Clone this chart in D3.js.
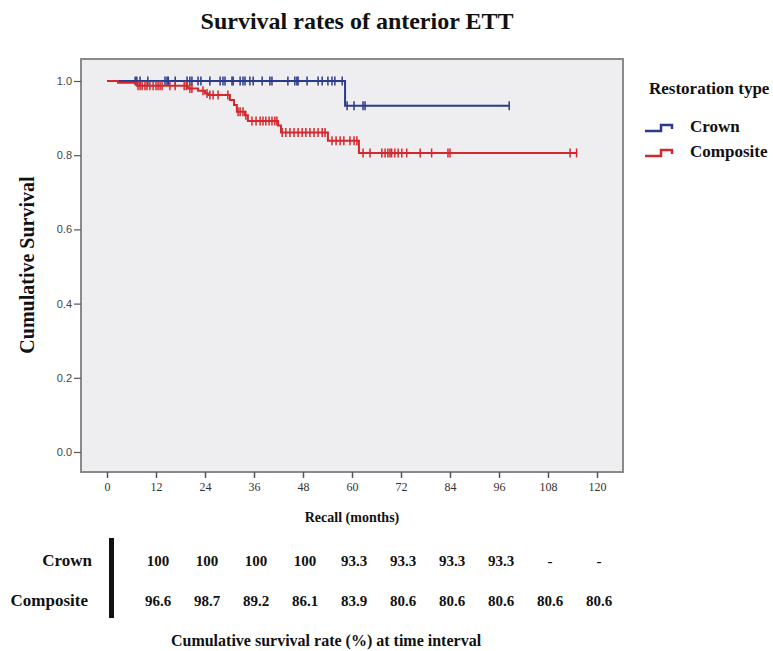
<!DOCTYPE html>
<html>
<head>
<meta charset="utf-8">
<script src="https://cdn.jsdelivr.net/npm/d3@7"></script>
<style>
  body { margin: 0; background: #fff; }
  svg { display: block; }
  .serif { font-family: "Liberation Serif", "DejaVu Serif", serif; font-weight: bold; fill: #111; }
</style>
</head>
<body>
<svg id="chart" width="773" height="651"></svg>
<script>
// Kaplan-Meier steps: [month, survival after event]
const crownSteps = [[0, 1.0], [58.3, 0.933]];
const crownEnd = 98.5;
const crownCensored = [6.9, 7.3, 8.1, 10.0, 14.2, 14.7, 15.0, 16.7, 19.6, 20.3, 20.8, 22.3, 23.0,
  25.2, 27.7, 28.4, 28.9, 30.6, 30.9, 32.6, 33.3, 33.8, 35.0, 35.8, 38.0, 39.9, 40.4, 44.3, 46.0,
  46.5, 46.8, 49.0, 51.7, 52.7, 54.1, 55.1, 55.8, 57.6, 58.8, 60.5, 62.7, 63.2, 98.5];

const compositeSteps = [[0, 1.0], [2.7, 0.995], [7.3, 0.987], [19.8, 0.980], [22.3, 0.974],
  [24.0, 0.966], [24.8, 0.962], [30.1, 0.949], [31.1, 0.935], [31.8, 0.917], [33.8, 0.908],
  [34.5, 0.892], [41.9, 0.880], [42.6, 0.861], [54.1, 0.839], [61.7, 0.806]];
const compositeEnd = 115;
const compositeCensored = [7.6, 8.1, 8.6, 9.3, 9.8, 10.5, 11.3, 12.0, 12.5, 13.0, 13.5, 15.4, 16.7,
  18.9, 19.4, 20.3, 20.8, 23.5, 24.5, 25.2, 26.0, 27.2, 29.6, 32.1, 32.6, 33.3, 34.0, 35.5, 36.5,
  37.5, 38.2, 38.9, 39.7, 40.4, 41.1, 41.6, 42.9, 43.8, 44.8, 45.8, 46.8, 47.8, 48.7, 49.7, 50.7,
  51.7, 52.7, 53.4, 55.1, 56.1, 57.1, 58.0, 59.5, 60.5, 61.2, 62.7, 64.4, 67.3, 68.1, 68.8, 69.3,
  69.7, 70.5, 71.3, 72.2, 73.4, 76.7, 79.5, 83.5, 84.0, 113.4, 115.0];

const xTicks = [0, 12, 24, 36, 48, 60, 72, 84, 96, 108, 120];
const yTicks = [0, 0.2, 0.4, 0.6, 0.8, 1.0];

// table below the chart (values at 12-month intervals)
const tableMonths = [12, 24, 36, 48, 60, 72, 84, 96, 108, 120];
const crownRates = ["100", "100", "100", "100", "93.3", "93.3", "93.3", "93.3", "-", "-"];
const compositeRates = ["96.6", "98.7", "89.2", "86.1", "83.9", "80.6", "80.6", "80.6", "80.6", "80.6"];

const series = [
  { name: "Crown", color: "#2b3a8a", steps: crownSteps, end: crownEnd, censored: crownCensored, rates: crownRates },
  { name: "Composite", color: "#d4282e", steps: compositeSteps, end: compositeEnd, censored: compositeCensored, rates: compositeRates }
];

const svg = d3.select("#chart");

// plot frame
const frame = { left: 81, right: 623, top: 59, bottom: 472 };
const x = d3.scaleLinear().domain([0, 120]).range([107, 597]);
const y = d3.scaleLinear().domain([0, 1]).range([452, 81]);

svg.append("rect")
  .attr("x", frame.left).attr("y", frame.top)
  .attr("width", frame.right - frame.left).attr("height", frame.bottom - frame.top)
  .attr("fill", "#eeeef1").attr("stroke", "#8a8a8a").attr("stroke-width", 2);

// y axis
const yAxis = svg.append("g")
  .attr("transform", `translate(${frame.left},0)`)
  .call(d3.axisLeft(y).tickValues(yTicks).tickFormat(d3.format(".1f")).tickSize(7).tickPadding(2));
yAxis.select(".domain").remove();
yAxis.selectAll("line").attr("stroke", "#555").attr("stroke-width", 1.2);
yAxis.selectAll("text")
  .style("font-family", "'Liberation Sans', Arial, sans-serif")
  .style("font-size", "11px").attr("fill", "#444");

// x axis
const xAxis = svg.append("g")
  .attr("transform", `translate(0,${frame.bottom})`)
  .call(d3.axisBottom(x).tickValues(xTicks).tickSize(6).tickPadding(4));
xAxis.select(".domain").remove();
xAxis.selectAll("line").attr("stroke", "#555").attr("stroke-width", 1.5);
xAxis.selectAll("text")
  .style("font-family", "'Liberation Serif', serif")
  .style("font-size", "12px").attr("fill", "#333");

// survival curves
const line = d3.line()
  .x(d => x(d[0]))
  .y(d => y(d[1]))
  .curve(d3.curveStepAfter);

function survivalAt(steps, t) {
  let s = steps[0][1];
  for (const [m, v] of steps) if (m <= t) s = v;
  return s;
}

series.forEach(s => {
  const pts = s.steps.concat([[s.end, s.steps[s.steps.length - 1][1]]]);
  svg.append("path")
    .datum(pts)
    .attr("d", line)
    .attr("fill", "none")
    .attr("stroke", s.color)
    .attr("stroke-width", 2);

  svg.append("g").selectAll("line")
    .data(s.censored)
    .join("line")
    .attr("x1", d => x(d)).attr("x2", d => x(d))
    .attr("y1", d => y(survivalAt(s.steps, d)) - 4.5)
    .attr("y2", d => y(survivalAt(s.steps, d)) + 4.5)
    .attr("stroke", s.color)
    .attr("stroke-width", 1.5);
});

// titles
svg.append("text").attr("class", "serif")
  .attr("x", 357).attr("y", 29).attr("text-anchor", "middle")
  .style("font-size", "24px")
  .text("Survival rates of anterior ETT");

svg.append("text").attr("class", "serif")
  .attr("transform", "translate(34,265) rotate(-90)")
  .attr("text-anchor", "middle")
  .style("font-size", "20px")
  .text("Cumulative Survival");

svg.append("text").attr("class", "serif")
  .attr("x", 352).attr("y", 522).attr("text-anchor", "middle")
  .style("font-size", "14px")
  .text("Recall (months)");

// legend
const legend = svg.append("g");
legend.append("text").attr("class", "serif")
  .attr("x", 649).attr("y", 94)
  .style("font-size", "17px")
  .text("Restoration type");

series.forEach((s, i) => {
  const ly = 131 + i * 25;
  legend.append("path")
    .attr("d", `M645,${ly} H661 V${ly - 6} H672 V${ly - 2}`)
    .attr("fill", "none")
    .attr("stroke", s.color)
    .attr("stroke-width", 2.5);
  legend.append("text").attr("class", "serif")
    .attr("x", 690).attr("y", ly + 1)
    .style("font-size", "17px")
    .text(s.name);
});

// survival table
const table = svg.append("g");
table.append("rect")
  .attr("x", 109).attr("y", 538).attr("width", 5).attr("height", 80)
  .attr("fill", "#111");

series.forEach((s, i) => {
  const ty = 566 + i * 40;
  table.append("text").attr("class", "serif")
    .attr("x", i === 0 ? 92 : 88).attr("y", ty)
    .attr("text-anchor", "end")
    .style("font-size", "17px")
    .text(s.name);
  table.selectAll(null)
    .data(s.rates)
    .join("text")
    .attr("class", "serif")
    .attr("x", (d, j) => x(tableMonths[j]) + 2)
    .attr("y", ty)
    .attr("text-anchor", "middle")
    .style("font-size", "15px")
    .text(d => d);
});

svg.append("text").attr("class", "serif")
  .attr("x", 326).attr("y", 646).attr("text-anchor", "middle")
  .style("font-size", "16px")
  .text("Cumulative survival rate (%) at time interval");
</script>
</body>
</html>
